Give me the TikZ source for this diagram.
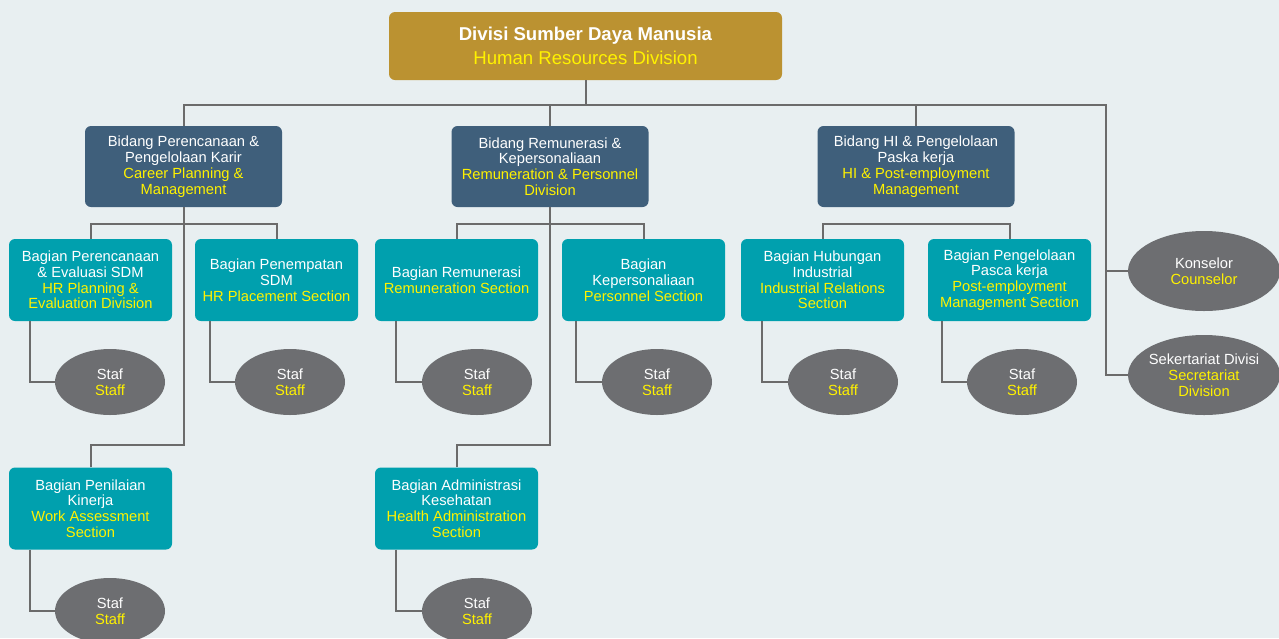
\documentclass[tikz,border=0pt]{standalone}
\usepackage{fontspec}
\setmainfont{Liberation Sans}
\usepackage{tikz}
\usetikzlibrary{shapes.geometric}
\definecolor{hrbg}{RGB}{232,239,241}
\definecolor{hrgold}{RGB}{187,146,49}
\definecolor{hrslate}{RGB}{63,95,123}
\definecolor{hrteal}{RGB}{0,160,174}
\definecolor{hrgray}{RGB}{109,110,113}
\definecolor{hryellow}{RGB}{255,242,0}
\definecolor{hrline}{RGB}{107,107,107}
\newcommand{\entext}[1]{\textcolor{hryellow}{#1}}

\begin{document}
\begin{tikzpicture}[x=1pt, y=-1pt,
    every node/.style={font=\fontsize{14.7}{15.8}\selectfont, text=white, align=center},
    headbox/.style={rectangle, rounded corners=6pt, fill=hrgold, minimum width=393pt, minimum height=68pt, font=\fontsize{18.6}{24}\selectfont},
    fieldbox/.style={rectangle, rounded corners=6pt, fill=hrslate, minimum width=197pt, minimum height=81pt, inner sep=0pt},
    sectbox/.style={rectangle, rounded corners=6pt, fill=hrteal, minimum width=163pt, minimum height=82pt, inner sep=0pt},
    staffoval/.style={ellipse, fill=hrgray, minimum width=110pt, minimum height=66pt, inner sep=0pt},
    sideoval/.style={ellipse, fill=hrgray, minimum width=152pt, minimum height=80pt, inner sep=0pt, inner xsep=-5pt},
    conn/.style={draw=hrline, line width=2pt}]
    \fill[hrbg] (0,0) rectangle (1279,638);
    \useasboundingbox (0,0) rectangle (1279,638);

    % division and fields
    \node[headbox] (hrd) at (585.5,46) {\textbf{Divisi Sumber Daya Manusia}\\\entext{Human Resources Division}};
    \node[fieldbox] (career) at (183.5,166.5) {Bidang Perencanaan \&\\Pengelolaan Karir\\\entext{Career Planning \&}\\\entext{Management}};
    \node[fieldbox] (remun) at (550,166.5) {Bidang Remunerasi \&\\Kepersonaliaan\\\entext{Remuneration \& Personnel}\\\entext{Division}};
    \node[fieldbox] (hi) at (916,166.5) {Bidang HI \& Pengelolaan\\Paska kerja\\\entext{HI \& Post-employment}\\\entext{Management}};

    % sections
    \node[sectbox] (planeval) at (90.5,280) {Bagian Perencanaan\\\& Evaluasi SDM\\\entext{HR Planning \&}\\\entext{Evaluation Division}};
    \node[sectbox] (placement) at (276.5,280) {Bagian Penempatan\\SDM\\\entext{HR Placement Section}};
    \node[sectbox] (remsec) at (456.5,280) {Bagian Remunerasi\\\entext{Remuneration Section}};
    \node[sectbox] (personnel) at (643.5,280) {Bagian\\Kepersonaliaan\\\entext{Personnel Section}};
    \node[sectbox] (industrial) at (822.5,280) {Bagian Hubungan\\Industrial\\\entext{Industrial Relations}\\\entext{Section}};
    \node[sectbox] (postemp) at (1009.5,280) {Bagian Pengelolaan\\Pasca kerja\\\entext{Post-employment}\\\entext{Management Section}};
    \node[sectbox] (assess) at (90.5,508.5) {Bagian Penilaian\\Kinerja\\\entext{Work Assessment}\\\entext{Section}};
    \node[sectbox] (health) at (456.5,508.5) {Bagian Administrasi\\Kesehatan\\\entext{Health Administration}\\\entext{Section}};

    % staff
    \node[staffoval] (staffA) at (110,382) {Staf\\\entext{Staff}};
    \node[staffoval] (staffB) at (290,382) {Staf\\\entext{Staff}};
    \node[staffoval] (staffC) at (477,382) {Staf\\\entext{Staff}};
    \node[staffoval] (staffD) at (657,382) {Staf\\\entext{Staff}};
    \node[staffoval] (staffE) at (843,382) {Staf\\\entext{Staff}};
    \node[staffoval] (staffF) at (1022,382) {Staf\\\entext{Staff}};
    \node[staffoval] (staffG) at (110,611) {Staf\\\entext{Staff}};
    \node[staffoval] (staffH) at (477,611) {Staf\\\entext{Staff}};

    \node[sideoval] (konselor) at (1204,271) {Konselor\\\entext{Counselor}};
    \node[sideoval] (sekretariat) at (1204,375) {Sekertariat Divisi\\\entext{Secretariat}\\\entext{Division}};

    % connectors
    \coordinate (bus) at (1106,104.5);
    \draw[conn] (hrd.south) -- (hrd.south |- bus);
    \draw[conn] (career.north) |- (bus) |- (konselor.west);
    \draw[conn] (bus) |- (sekretariat.west);
    \draw[conn] (remun.north) -- (remun.north |- bus);
    \draw[conn] (hi.north) -- (hi.north |- bus);

    \draw[conn] (planeval.north) -- ++(0,-15) -| (placement.north);
    \draw[conn] (assess.north) -- ++(0,-22) -| (career.south);
    \draw[conn] (remsec.north) -- ++(0,-15) -| (personnel.north);
    \draw[conn] (health.north) -- ++(0,-22) -| (remun.south);
    \draw[conn] (industrial.north) -- ++(0,-15) -| (postemp.north);

    \draw[conn] ([xshift=21pt]planeval.south west) |- (staffA.west);
    \draw[conn] ([xshift=15pt]placement.south west) |- (staffB.west);
    \draw[conn] ([xshift=21pt]remsec.south west) |- (staffC.west);
    \draw[conn] ([xshift=14pt]personnel.south west) |- (staffD.west);
    \draw[conn] ([xshift=21pt]industrial.south west) |- (staffE.west);
    \draw[conn] ([xshift=14pt]postemp.south west) |- (staffF.west);
    \draw[conn] ([xshift=21pt]assess.south west) |- (staffG.west);
    \draw[conn] ([xshift=21pt]health.south west) |- (staffH.west);
\end{tikzpicture}
\end{document}
